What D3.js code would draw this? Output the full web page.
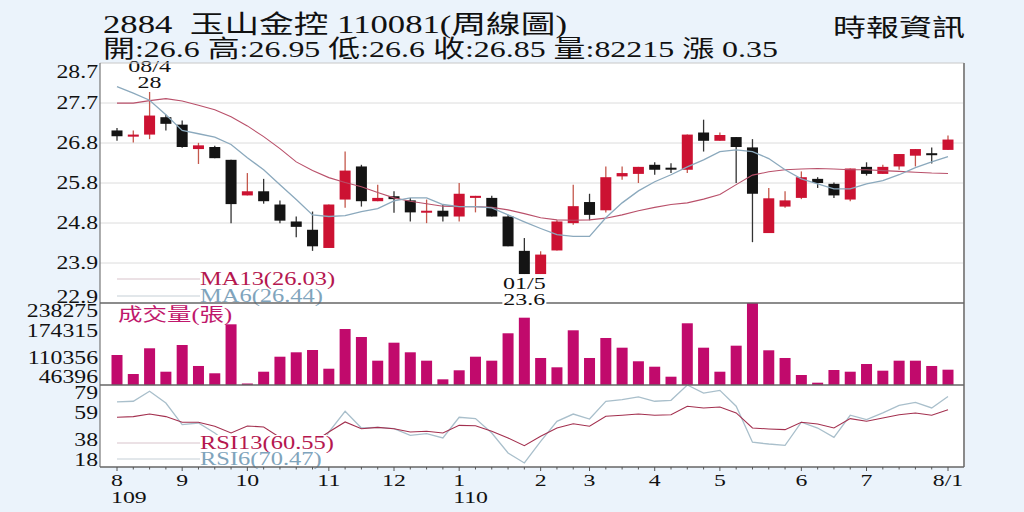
<!DOCTYPE html>
<html>
<head>
<meta charset="utf-8">
<script src="https://cdnjs.cloudflare.com/ajax/libs/d3/7.8.5/d3.min.js"></script>
<style>
  body { margin: 0; background: #ebf3fb; }
  svg { display: block; }
</style>
</head>
<body>
<div id="chart"></div>
<script>

// weekly candles, 2020/08 .. 2021/07
var opens  = [27.07, 26.92, 26.97, 27.39, 27.21, 26.62, 26.67, 26.36, 25.50, 25.60,
              25.28, 24.87, 24.67, 24.23, 25.40, 26.20, 25.36, 25.48, 25.38, 25.09,
              25.13, 24.99, 25.44, 25.44, 24.99, 24.16, 23.60, 24.17, 24.83, 25.34,
              25.14, 25.96, 26.02, 26.24, 26.17, 26.12, 27.02, 26.82, 26.91, 26.66,
              24.59, 25.23, 25.44, 25.90, 25.78, 25.40, 26.19, 26.02, 26.20, 26.46,
              26.52, 26.60];
var highs  = [27.13, 27.07, 28.00, 27.45, 27.31, 26.77, 26.70, 26.36, 26.04, 25.90,
              25.38, 24.99, 25.11, 25.28, 26.56, 26.24, 25.76, 25.60, 25.44, 25.40,
              25.28, 25.80, 25.49, 25.49, 25.03, 24.47, 24.15, 24.90, 25.76, 25.54,
              26.20, 26.20, 26.19, 26.30, 26.28, 26.97, 27.33, 27.02, 26.91, 26.86,
              25.68, 25.60, 26.08, 25.94, 25.81, 26.15, 26.30, 26.24, 26.50, 26.62,
              26.66, 26.95];
var lows   = [26.82, 26.78, 26.86, 27.07, 26.65, 26.26, 26.40, 24.83, 25.50, 25.30,
              24.83, 24.49, 24.16, 24.23, 25.20, 25.23, 25.36, 25.08, 24.87, 24.83,
              24.87, 24.87, 25.09, 24.99, 24.27, 23.60, 23.60, 24.17, 24.79, 24.90,
              25.09, 25.88, 25.80, 26.00, 26.04, 26.04, 26.56, 26.82, 25.80, 24.37,
              24.59, 25.20, 25.41, 25.68, 25.44, 25.36, 25.98, 26.02, 26.12, 26.20,
              26.27, 26.60];
var closes = [26.93, 26.97, 27.43, 27.23, 26.67, 26.71, 26.40, 25.29, 25.60, 25.36,
              24.89, 24.74, 24.27, 25.28, 26.10, 25.36, 25.44, 25.41, 25.09, 25.13,
              24.99, 25.54, 25.49, 24.99, 24.27, 23.60, 24.07, 24.87, 25.24, 25.03,
              25.94, 26.04, 26.19, 26.12, 26.16, 26.97, 26.82, 26.96, 26.67, 25.54,
              25.43, 25.38, 25.94, 25.80, 25.50, 26.15, 26.02, 26.19, 26.50, 26.62,
              26.50, 26.85];

var ma13 = [27.73, 27.73, 27.79, 27.84, 27.78, 27.68, 27.57, 27.40, 27.18, 26.92,
            26.63, 26.31, 26.10, 25.93, 25.81, 25.71, 25.57, 25.44, 25.36, 25.30,
            25.24, 25.23, 25.23, 25.21, 25.15, 25.06, 24.96, 24.91, 24.90, 24.91,
            24.95, 25.03, 25.13, 25.21, 25.28, 25.32, 25.41, 25.52, 25.76, 25.99,
            26.07, 26.12, 26.14, 26.15, 26.14, 26.12, 26.12, 26.10, 26.08, 26.06,
            26.04, 26.03];
var ma6  = [28.13, 27.97, 27.80, 27.45, 27.07, 26.99, 26.91, 26.73, 26.41, 26.12,
            25.76, 25.40, 25.03, 24.99, 25.01, 25.11, 25.18, 25.37, 25.44, 25.44,
            25.28, 25.23, 25.23, 25.20, 25.03, 24.86, 24.70, 24.55, 24.51, 24.51,
            24.96, 25.32, 25.61, 25.83, 26.00, 26.19, 26.36, 26.56, 26.60, 26.56,
            26.39, 26.12, 25.90, 25.78, 25.66, 25.66, 25.78, 25.86, 26.00, 26.17,
            26.31, 26.44];

var volumes = [116600, 72100, 132300, 77500, 140000, 90900, 73800, 188400, 48700, 77500,
               112600, 122900, 128300, 84500, 177400, 158700, 103300, 145400, 122900, 103300,
               59700, 80800, 112600, 103300, 167400, 203900, 109600, 87800, 174400, 109600,
               156400, 133700, 101900, 89200, 65800, 190800, 133700, 77500, 138400, 238275,
               127600, 109600, 69800, 51800, 81500, 77500, 95500, 79900, 103300, 103300,
               90900, 82215];

var rsi13 = [55, 55.5, 57.4, 55.5, 51.3, 51.3, 48.3, 43.3, 48.5, 47.8,
             40, 38, 36, 44, 51.5, 46.5, 47.5, 46.5, 44, 44.6,
             43.3, 49, 48.7, 44.6, 39.6, 33.9, 40.8, 47, 50.2, 48.3,
             55.7, 56.5, 57.4, 56.5, 56.9, 63.2, 61.9, 62.6, 58.2, 47,
             46.3, 45.8, 51.3, 50, 47, 54, 52, 54.5, 56.9, 58.2,
             56.5, 60.55];
var rsi6  = [66.4, 66.9, 74.3, 65.6, 49.5, 50.7, 43.3, 34, 40, 35,
             28, 25, 22, 44, 59.4, 47, 47.5, 46.5, 41.6, 42.8,
             39.6, 55, 54, 43.3, 28.4, 21, 37.1, 52, 57.4, 53.7,
             66.9, 68.1, 70.1, 66.9, 67.6, 79, 73, 75, 63.2, 36.4,
             35.1, 34.1, 51.3, 47, 40.1, 56.5, 53.2, 58.2, 63.9, 66.1,
             61.9, 70.47];

// axis labels (evenly spaced between min and max of each panel)
var priceTicks = ['22.9', '23.9', '24.8', '25.8', '26.8', '27.7', '28.7'];
var volTicks   = ['46396', '110356', '174315', '238275'];
var rsiTicks   = ['18', '38', '59', '79'];

var monthIdx   = [0, 4, 8, 13, 17, 21, 26, 29, 33, 37, 42, 46, 51];
var monthText  = ['8', '9', '10', '11', '12', '1', '2', '3', '4', '5', '6', '7', '8/1'];
var yearIdx    = [0, 21];
var yearText   = ['109', '110'];

var title1 = '2884\u00a0 玉山金控 110081(周線圖)';
var title2 = '開:26.6 高:26.95 低:26.6 收:26.85 量:82215 漲 0.35';
var source = '時報資訊';

var hiIdx = 2, hiDate = '08/4';
var loIdx = 25, loDate = '01/5';


// layout
var W = 1024, H = 512;
var box = { left: 100, right: 964, top: 63, price: 303, vol: 385, rsi: 467 };
var S = 1.36;   // the original bitmap text is stretched sideways
var serif = "'Liberation Serif','Noto Sans CJK TC',serif";
var red = '#cc1232', black = '#141414';

var svg = d3.select('#chart')
    .append('svg')
    .attr('width', W)
    .attr('height', H);

var x = d3.scaleLinear()
    .domain([0, closes.length - 1])
    .range([117, 948]);

var yP = d3.scaleLinear()
    .domain([+priceTicks[0], +priceTicks[priceTicks.length - 1]])
    .range([box.price, box.top]);
var yV = d3.scaleLinear()
    .domain([+volTicks[0], +volTicks[volTicks.length - 1]])
    .range([box.vol, box.price]);
var yR = d3.scaleLinear()
    .domain([+rsiTicks[0], +rsiTicks[rsiTicks.length - 1]])
    .range([box.rsi, box.vol]);

// text drawn with sideways stretch
function label(g, px, py, str, size, anchor, color, sx) {
    return g.append('text')
        .attr('transform', `translate(${px},${py}) scale(${sx || S},1)`)
        .attr('text-anchor', anchor || 'start')
        .attr('dominant-baseline', 'central')
        .attr('font-family', serif)
        .attr('font-size', size)
        .attr('fill', color || '#111')
        .text(str);
}

// plot background
svg.append('rect')
    .attr('x', box.left).attr('y', box.top)
    .attr('width', box.right - box.left).attr('height', box.rsi - box.top)
    .attr('fill', '#fff');

// header
svg.append('text')
    .attr('x', 103).attr('y', 33)
    .attr('font-family', serif).attr('font-size', 25).attr('fill', '#111')
    .attr('textLength', 464).attr('lengthAdjust', 'spacingAndGlyphs')
    .text(title1);
svg.append('text')
    .attr('x', 103).attr('y', 57)
    .attr('font-family', serif).attr('font-size', 24).attr('fill', '#111')
    .attr('textLength', 675).attr('lengthAdjust', 'spacingAndGlyphs')
    .text(title2);
svg.append('text')
    .attr('x', 833).attr('y', 36)
    .attr('font-family', serif).attr('font-size', 24).attr('fill', '#111')
    .attr('textLength', 132).attr('lengthAdjust', 'spacingAndGlyphs')
    .text(source);

// price grid + labels
var axisG = svg.append('g');
function evenLevel(scale, k, n) {
    var d = scale.domain();
    return d[0] + k * (d[1] - d[0]) / (n - 1);
}
priceTicks.forEach(function (t, k) {
    var py = yP(evenLevel(yP, k, priceTicks.length));
    if (k > 0 && k < priceTicks.length - 1) {
        svg.append('line')
            .attr('x1', box.left).attr('x2', box.right)
            .attr('y1', py).attr('y2', py)
            .attr('stroke', '#dcdcdc').attr('stroke-width', 1);
    }
    var ly = k == 0 ? py - 6 : (k == priceTicks.length - 1 ? py + 9 : py);
    label(axisG, 98, ly, t, 18, 'end', '#111', 1.32);
});
volTicks.forEach(function (t, k) {
    var py = yV(evenLevel(yV, k, volTicks.length));
    var ly = k == 0 ? py - 8 : (k == volTicks.length - 1 ? py + 8.5 : py + 0.5);
    label(axisG, 98, ly, t, 18, 'end', '#111', 1.32);
});
rsiTicks.forEach(function (t, k) {
    var py = yR(evenLevel(yR, k, rsiTicks.length));
    var ly = k == 0 ? py - 7 : (k == rsiTicks.length - 1 ? py + 8 : py + 0.5);
    label(axisG, 98, ly, t, 18, 'end', '#111', 1.32);
});

// candles
var bw = 11;
var cdata = closes.map(function (c, i) {
    return { i: i, o: opens[i], h: highs[i], l: lows[i], c: c };
});
var candle = svg.append('g').selectAll('g')
    .data(cdata)
    .enter().append('g');

candle.append('line')
    .attr('x1', d => x(d.i)).attr('x2', d => x(d.i))
    .attr('y1', d => yP(d.h)).attr('y2', d => yP(d.l))
    .attr('stroke', d => d.c >= d.o ? '#c4584c' : '#333')
    .attr('stroke-width', 1.3);

candle.append('rect')
    .attr('x', d => x(d.i) - bw / 2)
    .attr('width', bw)
    .attr('y', d => yP(Math.max(d.o, d.c)))
    .attr('height', d => Math.max(2, Math.abs(yP(d.o) - yP(d.c))))
    .attr('fill', d => d.c >= d.o ? red : black);

// moving averages
var line = d3.line()
    .x((d, i) => x(i))
    .curve(d3.curveLinear);

svg.append('path')
    .attr('d', line.y(d => yP(d))(ma13))
    .attr('fill', 'none').attr('stroke', '#b9506a').attr('stroke-width', 1.1);
svg.append('path')
    .attr('d', line.y(d => yP(d))(ma6))
    .attr('fill', 'none').attr('stroke', '#8ba9bd').attr('stroke-width', 1.3);

// price legend
var legG = svg.append('g');
function legend(g, ly, str, lineColor, textColor) {
    g.append('line')
        .attr('x1', 117).attr('x2', 200)
        .attr('y1', ly).attr('y2', ly)
        .attr('stroke', lineColor).attr('stroke-width', 1);
    label(g, 200, ly, str, 18, 'start', textColor);
}
var fmt = d3.format('.2f');
legend(legG, 279, 'MA13(' + fmt(ma13[ma13.length - 1]) + ')', '#d8c3cb', '#b5174f');
legend(legG, 296, 'MA6(' + fmt(ma6[ma6.length - 1]) + ')', '#c5cfd6', '#7fa4bc');

// high / low notes
label(svg, x(hiIdx), 66.5, hiDate, 16, 'middle', '#111', 1.5);
label(svg, x(hiIdx), 82.5, String(highs[hiIdx]), 16, 'middle', '#111', 1.5);
label(svg, x(loIdx), 284, loDate, 16, 'middle', '#111', 1.5);

// volume bars
svg.append('g').selectAll('rect')
    .data(volumes)
    .enter().append('rect')
    .attr('x', (d, i) => x(i) - bw / 2)
    .attr('width', bw)
    .attr('y', d => Math.min(yV(d), box.vol - 1.5))
    .attr('height', d => Math.max(1.5, box.vol - yV(d)))
    .attr('fill', '#c10a6c');

label(svg, 118, 315, '成交量(張)', 18, 'start', '#c0186c');

// RSI lines
var rline = d3.line().x((d, i) => x(i)).y(d => yR(d));
svg.append('path')
    .attr('d', rline(rsi6))
    .attr('fill', 'none').attr('stroke', '#a9bfcb').attr('stroke-width', 1.3);
svg.append('path')
    .attr('d', rline(rsi13))
    .attr('fill', 'none').attr('stroke', '#a3304f').attr('stroke-width', 1.1);

// RSI legend sits on a white box
svg.append('rect')
    .attr('x', 198).attr('y', 435)
    .attr('width', 144).attr('height', box.rsi - 435 - 0.5)
    .attr('fill', '#fff');
legend(legG.raise(), 443, 'RSI13(' + fmt(rsi13[rsi13.length - 1]) + ')', '#d8c3cb', '#b5174f');
legend(legG, 459, 'RSI6(' + fmt(rsi6[rsi6.length - 1]) + ')', '#c5cfd6', '#7fa4bc');

// frame and panel dividers
svg.append('line').attr('x1', box.left).attr('x2', box.right).attr('y1', box.top).attr('y2', box.top)
    .attr('stroke', '#c8c8c8').attr('stroke-width', 1);
svg.append('line').attr('x1', box.right).attr('x2', box.right).attr('y1', box.top).attr('y2', box.rsi)
    .attr('stroke', '#8a8a8a').attr('stroke-width', 2);
svg.append('line').attr('x1', box.left).attr('x2', box.left).attr('y1', box.top).attr('y2', box.rsi)
    .attr('stroke', '#777').attr('stroke-width', 1.2);
[box.price, box.vol, box.rsi].forEach(function (py) {
    svg.append('line').attr('x1', box.left).attr('x2', box.right).attr('y1', py).attr('y2', py)
        .attr('stroke', '#666').attr('stroke-width', 1.6);
});

// low value note covers the divider
var lowBox = svg.append('g');
lowBox.append('rect')
    .attr('x', x(loIdx) - 22).attr('y', 293)
    .attr('width', 44).attr('height', 15)
    .attr('fill', '#fff');
label(lowBox, x(loIdx), 300, String(lows[loIdx]), 16, 'middle', '#111', 1.5);

// bottom axis: weekly ticks, month and year labels
svg.append('g').selectAll('line')
    .data(closes)
    .enter().append('line')
    .attr('x1', (d, i) => x(i)).attr('x2', (d, i) => x(i))
    .attr('y1', box.rsi).attr('y2', (d, i) => box.rsi + (monthIdx.indexOf(i) >= 0 ? 4 : 2.5))
    .attr('stroke', '#555').attr('stroke-width', 1);

monthIdx.forEach(function (i, k) {
    label(svg, x(i), 480, monthText[k], 17, 'middle', '#111', 1.4);
});
yearIdx.forEach(function (i, k) {
    label(svg, x(i) - 6, 497, yearText[k], 17, 'start', '#111', 1.4);
});

</script>
</body>
</html>
